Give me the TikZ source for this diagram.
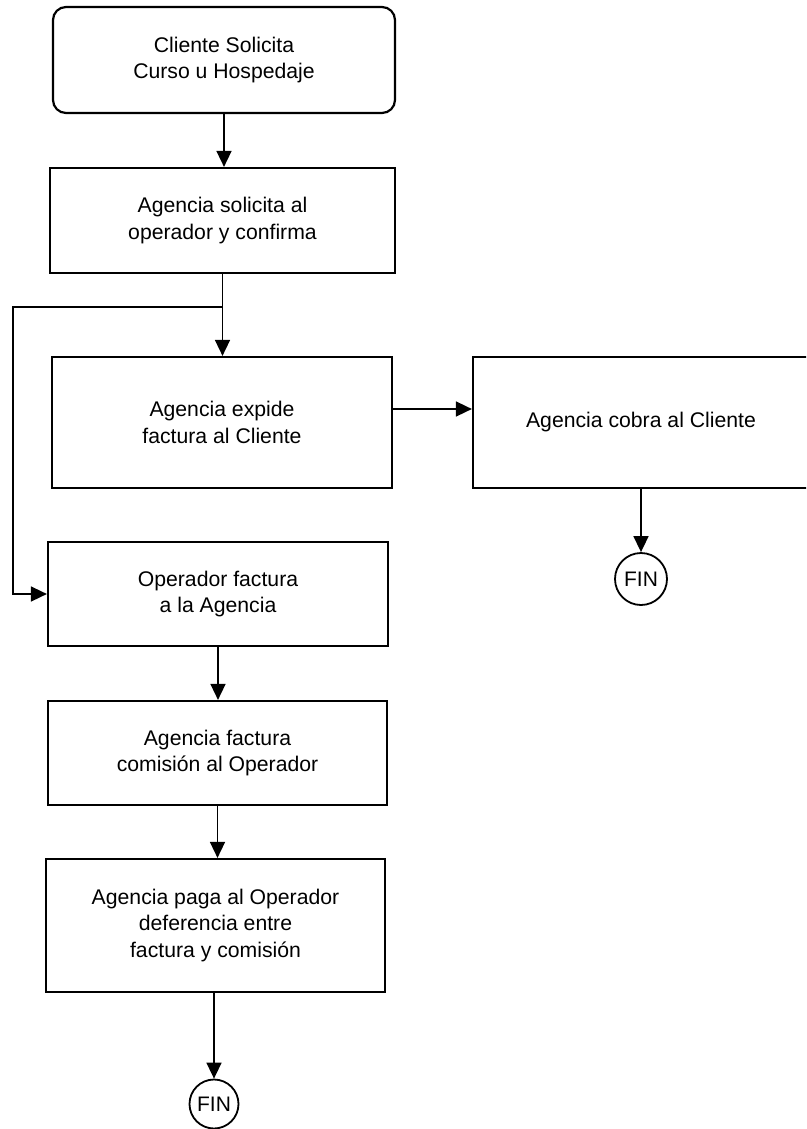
\documentclass[tikz,border=0pt]{standalone}
\usepackage{fontspec}
\setmainfont{Liberation Sans}
\usetikzlibrary{arrows.meta,calc}
\begin{document}
\begin{tikzpicture}[x=1pt,y=-1pt,
  box/.style={draw,line width=2.2pt,inner sep=0pt,align=center,font=\fontsize{21.2}{26.5}\selectfont},
  conn/.style={line width=1.6pt,-{Triangle[length=16pt,width=15pt]}},
  finc/.style={circle,draw,line width=1.8pt,inner sep=0pt,font=\fontsize{21}{24}\selectfont}]
\useasboundingbox (0,0) rectangle (806,1129);
\clip (0,0) rectangle (806,1129);
\node[box,minimum width=342pt,minimum height=106pt,rounded corners=13pt] (b1) at (224,60) {Cliente Solicita\\Curso u Hospedaje};
\node[box,minimum width=345pt,minimum height=105pt] (b2) at (222.5,220.5) {Agencia solicita al\\operador y confirma};
\node[box,minimum width=340pt,minimum height=131pt] (b3) at (222,422.5) {Agencia expide\\factura al Cliente};
\node[box,minimum width=336pt,minimum height=131pt] (b5) at (641,422.5) {Agencia cobra al Cliente};
\node[finc,minimum size=52pt] (f1) at (641,579) {FIN};
\node[box,minimum width=340pt,minimum height=104pt] (b4) at (218,594) {Operador factura\\a la Agencia};
\node[box,minimum width=339pt,minimum height=104pt] (b6) at (217.5,753) {Agencia factura\\comisión al Operador};
\node[box,minimum width=339pt,minimum height=133pt] (b7) at (215.5,925.5) {Agencia paga al Operador\\deferencia entre\\factura y comisión};
\node[finc,minimum size=49pt] (f2) at (214,1104) {FIN};
\coordinate (br) at (223,307);
\coordinate (lc) at (13,307);
\coordinate (y409) at (0,409);
\draw[conn] (b1.south) -- (b1.south |- b2.north);
\draw[conn] (b2.south) -- (b2.south |- b3.north);
\draw[conn] (br) -- (lc) |- (b4.west);
\draw[conn] (b3.east |- y409) -- (b5.west |- y409);
\draw[conn] (b5.south) -- (f1.north);
\draw[conn] (b4.south) -- (b4.south |- b6.north);
\draw[conn] (b6.south) -- (b6.south |- b7.north);
\draw[conn] (f2.north |- b7.south) -- (f2.north);
\end{tikzpicture}
\end{document}
